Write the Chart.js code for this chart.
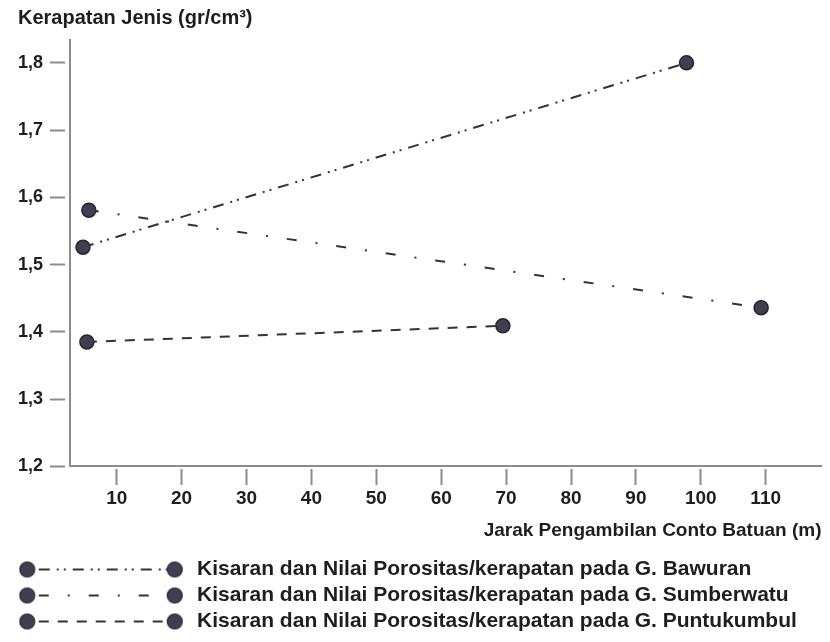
<!DOCTYPE html>
<html lang="id">
<head>
<meta charset="UTF-8">
<title>Kerapatan Jenis vs Jarak Pengambilan</title>
<script src="https://cdn.jsdelivr.net/npm/chart.js"></script>
<style>
    html, body {
        margin: 0;
        padding: 0;
        background: #fff;
    }
    #wrap {
        width: 830px;
        height: 642px;
    }
</style>
</head>
<body>
<div id="wrap"><canvas id="myChart"></canvas></div>
<script>
    // Data: distance (m) vs specific density (gr/cm3)
    const seriesNames = [
        'Kisaran dan Nilai Porositas/kerapatan pada G. Bawuran',
        'Kisaran dan Nilai Porositas/kerapatan pada G. Sumberwatu',
        'Kisaran dan Nilai Porositas/kerapatan pada G. Puntukumbul'
    ];
    const bawuranX = [4.8, 97.8];
    const bawuranY = [1.526, 1.80];
    const sumberwatuX = [5.7, 109.3];
    const sumberwatuY = [1.581, 1.436];
    const puntukumbulX = [5.4, 69.5];
    const puntukumbulY = [1.385, 1.409];
    const xTicks = [10, 20, 30, 40, 50, 60, 70, 80, 90, 100, 110];
    const yTicks = [1.2, 1.3, 1.4, 1.5, 1.6, 1.7, 1.8];

    // line styles
    const dashes = [[11, 7, 2, 5, 2, 7], [10, 19, 2, 19], [10, 9]];
    const lineColor = '#333';
    const dotColor = '#3f3f50';
    const dotBorder = '#26262f';
    const axisColor = '#8c8c8c';
    const textColor = '#1e1e1e';
    const font = 'Liberation Sans, Arial, sans-serif';

    function toPoints(xs, ys) {
        return xs.map((x, i) => ({ x: x, y: ys[i] }));
    }

    // legend glyph: dot - dashed line - dot
    function makeLegendIcon(dash) {
        const c = document.createElement('canvas');
        c.width = 172;
        c.height = 18;
        const g = c.getContext('2d');
        g.strokeStyle = lineColor;
        g.lineWidth = 2;
        g.setLineDash(dash);
        g.beginPath();
        g.moveTo(20, 9);
        g.lineTo(148, 9);
        g.stroke();
        g.setLineDash([]);
        [8.5, 156].forEach(cx => {
            g.beginPath();
            g.arc(cx, 9, 7.5, 0, Math.PI * 2);
            g.fillStyle = dotColor;
            g.fill();
            g.lineWidth = 1.2;
            g.strokeStyle = dotBorder;
            g.stroke();
        });
        return c;
    }
    const legendIcons = dashes.map(makeLegendIcon);

    const seriesData = [
        toPoints(bawuranX, bawuranY),
        toPoints(sumberwatuX, sumberwatuY),
        toPoints(puntukumbulX, puntukumbulY)
    ];

    const ctx = document.getElementById('myChart').getContext('2d');
    new Chart(ctx, {
        type: 'line',
        data: {
            datasets: seriesData.map((pts, i) => ({
                label: seriesNames[i],
                data: pts,
                borderColor: lineColor,
                borderWidth: 2,
                borderDash: dashes[i],
                pointRadius: 7,
                pointBackgroundColor: dotColor,
                pointBorderColor: dotBorder,
                pointBorderWidth: 1.5,
                fill: false,
                tension: 0
            }))
        },
        options: {
            responsive: true,
            maintainAspectRatio: false,
            animation: false,
            layout: {
                padding: { left: 18, right: 5, top: 0, bottom: 0 }
            },
            plugins: {
                tooltip: { enabled: false },
                title: {
                    display: true,
                    text: 'Kerapatan Jenis (gr/cm³)',
                    align: 'start',
                    color: textColor,
                    font: { family: font, size: 20, weight: 'bold' },
                    padding: { top: 6, bottom: 10 }
                },
                legend: {
                    position: 'bottom',
                    align: 'start',
                    labels: {
                        usePointStyle: true,
                        pointStyleWidth: 163.5,
                        padding: 5,
                        color: textColor,
                        font: { family: font, size: 21, weight: 'bold' },
                        generateLabels(chart) {
                            const items = Chart.defaults.plugins.legend.labels.generateLabels(chart);
                            items.forEach((it, i) => { it.pointStyle = legendIcons[i]; });
                            return items;
                        }
                    }
                }
            },
            scales: {
                x: {
                    type: 'linear',
                    min: 2.8,
                    max: 118.6,
                    afterBuildTicks(scale) {
                        scale.ticks = xTicks.map(v => ({ value: v }));
                    },
                    grid: {
                        drawOnChartArea: false,
                        tickLength: 19,
                        tickColor: axisColor,
                        tickWidth: 2,
                        tickBorderDash: [0, 2, 16, 100]
                    },
                    border: { color: axisColor, width: 2 },
                    ticks: {
                        padding: 2,
                        color: textColor,
                        font: { family: font, size: 19, weight: 'bold' }
                    },
                    title: {
                        display: true,
                        text: 'Jarak Pengambilan Conto Batuan (m)',
                        align: 'end',
                        color: textColor,
                        font: { family: font, size: 19, weight: 'bold' },
                        padding: { top: 7, bottom: 12 }
                    }
                },
                y: {
                    min: 1.2,
                    max: 1.834,
                    afterBuildTicks(scale) {
                        scale.ticks = yTicks.map(v => ({ value: v }));
                    },
                    afterFit(scale) {
                        scale.width = 52;
                    },
                    grid: {
                        drawOnChartArea: false,
                        tickLength: 20,
                        tickColor: axisColor,
                        tickWidth: 2,
                        tickBorderDash: [15, 100]
                    },
                    border: { color: axisColor, width: 2 },
                    ticks: {
                        padding: 7,
                        color: textColor,
                        font: { family: font, size: 18, weight: 'bold' },
                        callback: v => v.toFixed(1).replace('.', ',')
                    }
                }
            }
        }
    });
</script>
</body>
</html>
